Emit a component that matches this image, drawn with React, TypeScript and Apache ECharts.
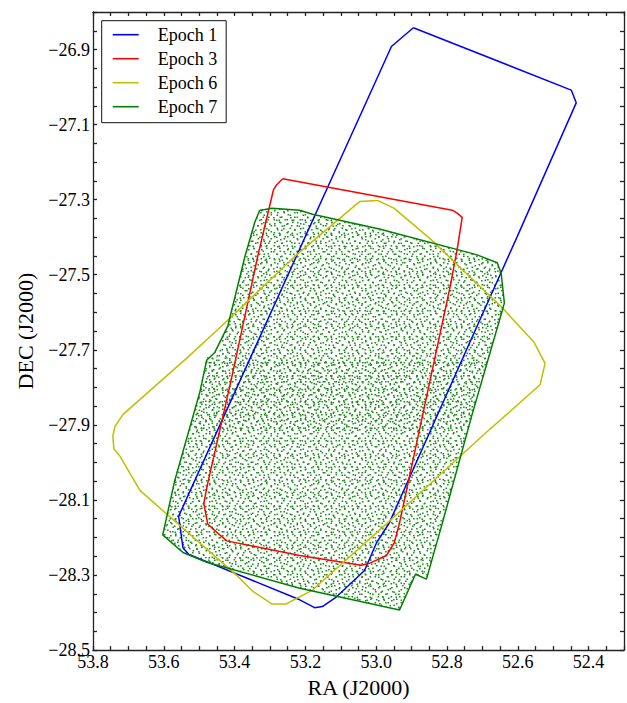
import React, { useEffect, useRef } from 'react';
import * as echarts from 'echarts';

// Footprint outlines (RA, DEC in degrees, J2000)
const epoch1RA = [52.895, 52.957, 53.558, 53.546, 53.529, 53.216, 53.174, 53.152, 53.112, 53.033, 52.999, 52.963, 52.737, 52.602, 52.435, 52.449, 52.895];
const epoch1DEC = [-26.842, -26.892, -28.143, -28.227, -28.245, -28.366, -28.387, -28.384, -28.358, -28.288, -28.214, -28.161, -27.683, -27.399, -27.042, -27.008, -26.842];

const epoch3RA = [53.264, 53.281, 53.290, 53.335, 53.411, 53.476, 53.487, 53.476, 53.442, 53.422, 53.216, 53.042, 53.019, 52.971, 52.949, 52.934, 52.791, 52.771, 52.757, 52.771, 52.785, 53.264];
const epoch3DEC = [-27.244, -27.260, -27.273, -27.452, -27.786, -28.056, -28.109, -28.164, -28.193, -28.209, -28.248, -28.274, -28.269, -28.248, -28.214, -28.161, -27.531, -27.431, -27.347, -27.336, -27.328, -27.244];

const epoch6RA = [53.047, 52.996, 52.949, 52.844, 52.737, 52.644, 52.554, 52.523, 52.537, 52.695, 52.968, 53.180, 53.245, 53.253, 53.295, 53.349, 53.394, 53.667, 53.724, 53.741, 53.744, 53.738, 53.715, 53.535, 53.436, 53.225, 53.047];
const epoch6DEC = [-27.305, -27.302, -27.323, -27.407, -27.504, -27.588, -27.680, -27.736, -27.793, -27.925, -28.161, -28.340, -28.372, -28.377, -28.377, -28.343, -28.301, -28.075, -27.983, -27.964, -27.930, -27.904, -27.872, -27.722, -27.636, -27.447, -27.305];

const epoch7RA = [53.329, 53.315, 53.295, 53.216, 53.180, 52.991, 52.746, 52.715, 52.658, 52.647, 52.638, 52.644, 52.729, 52.813, 52.858, 52.889, 52.934, 53.216, 53.479, 53.546, 53.603, 53.569, 53.498, 53.479, 53.456, 53.442, 53.419, 53.371, 53.343, 53.329];
const epoch7DEC = [-27.328, -27.326, -27.323, -27.328, -27.339, -27.378, -27.439, -27.447, -27.468, -27.496, -27.575, -27.596, -27.872, -28.161, -28.311, -28.298, -28.393, -28.335, -28.266, -28.240, -28.193, -28.048, -27.812, -27.728, -27.707, -27.680, -27.636, -27.452, -27.360, -27.328];

// denser strip of sources across the middle of the Epoch 7 field
const denseStripRA = [53.479, 53.498, 53.524, 52.740, 52.683, 53.479];
const denseStripDEC = [-27.720, -27.812, -27.912, -27.912, -27.720, -27.720];

const epochNames = ['Epoch 1', 'Epoch 3', 'Epoch 6', 'Epoch 7'];
const epochColors = ['#0000ff', '#ff0000', '#bfbf00', '#008000'];

const raMin = 52.3;
const raMax = 53.8;
const decMin = -28.5;
const decMax = -26.8;
const tickStep = 0.05;

const FONT = '"Liberation Serif", "Times New Roman", serif';

// texture tiles (different periods overlaid so the dots do not look like a grid)
const TILE_A = 13;
const DOTS_A = [[1, 2], [6, 0.5], [10.5, 4], [3.5, 6.5], [8, 8.5], [0.5, 11], [5.5, 11.5]];
const TILE_B = 17;
const DOTS_B = [[2, 4], [8, 1], [14, 2.5], [5, 8], [11, 7], [15.5, 10], [1, 13], [7.5, 12.5], [12.5, 15], [4, 15.5], [9.5, 4.5]];
const TILE_C = 19;
const DOTS_C = [[1, 1], [9.5, 3], [15, 1.5], [4, 8], [13, 9.5], [7, 14], [17, 15]];

function makeTileUrl(size: number, dots: number[][], color: string): string {
  const c = document.createElement('canvas');
  c.width = size;
  c.height = size;
  const ctx = c.getContext('2d');
  if (ctx) {
    ctx.fillStyle = color;
    for (const [x, y] of dots) ctx.fillRect(x, y, 1.6, 1.5);
  }
  return c.toDataURL();
}

const minus = (s: string) => s.replace('-', '\u2212');

function raLabel(v: number): string {
  const k = Math.round(v * 10);
  if (Math.abs(v * 10 - k) > 1e-6 || k % 2 !== 0) return '';
  return (k / 10).toFixed(1);
}
function decLabel(v: number): string {
  const k = Math.round(v * 10);
  if (Math.abs(v * 10 - k) > 1e-6 || Math.abs(k) % 2 !== 1) return '';
  return minus((k / 10).toFixed(1));
}

const toPairs = (ra: number[], dec: number[]) => ra.map((r, i) => [r, dec[i]]);

function fieldSeries(name: string, ra: number[], dec: number[], url: string, size: number, z: number) {
  return {
    type: 'custom',
    name,
    xAxisIndex: 0,
    yAxisIndex: 0,
    z,
    silent: true,
    data: [[ra[0], dec[0]]],
    renderItem: (_params: any, api: any) => {
      const pts = ra.map((r, i) => api.coord([r, dec[i]]));
      return {
        type: 'polygon',
        shape: { points: pts },
        style: {
          fill: { image: url, repeat: 'repeat', imageWidth: size, imageHeight: size },
          stroke: 'none',
        },
      };
    },
  };
}

export default function App() {
  const ref = useRef<HTMLDivElement>(null);
  useEffect(() => {
    if (!ref.current) return;
    const chart = echarts.init(ref.current, undefined, { renderer: 'svg' });
    const urlA = makeTileUrl(TILE_A, DOTS_A, '#1a8a1a');
    const urlB = makeTileUrl(TILE_B, DOTS_B, '#2a922a');
    const urlC = makeTileUrl(TILE_C, DOTS_C, '#1a8a1a');
    const axisLineStyle = { color: '#222', width: 1.3 };
    const baseX = {
      type: 'value' as const,
      min: raMin,
      max: raMax,
      interval: tickStep,
      inverse: true,
      splitLine: { show: false },
      axisLine: { show: true, onZero: false, lineStyle: axisLineStyle },
      axisTick: { show: true, inside: true, length: 4, lineStyle: axisLineStyle },
    };
    const baseY = {
      type: 'value' as const,
      min: decMin,
      max: decMax,
      interval: tickStep,
      splitLine: { show: false },
      axisLine: { show: true, onZero: false, lineStyle: axisLineStyle },
      axisTick: { show: true, inside: true, length: 4, lineStyle: axisLineStyle },
    };
    const outlines = [
      toPairs(epoch1RA, epoch1DEC),
      toPairs(epoch3RA, epoch3DEC),
      toPairs(epoch6RA, epoch6DEC),
      toPairs(epoch7RA, epoch7DEC),
    ];
    chart.setOption({
      animation: false,
      backgroundColor: '#fff',
      grid: { left: 93, top: 12, width: 532, height: 646.8, containLabel: false },
      xAxis: [
        {
          ...baseX,
          position: 'bottom',
          name: 'RA (J2000)',
          nameLocation: 'middle',
          nameGap: 12,
          nameTextStyle: { fontFamily: FONT, fontSize: 22, color: '#000' },
          axisLabel: { show: true, margin: 3, formatter: raLabel, fontFamily: FONT, fontSize: 18, color: '#000' },
        },
        { ...baseX, position: 'top', axisLabel: { show: false } },
      ],
      yAxis: [
        {
          ...baseY,
          position: 'left',
          name: 'DEC (J2000)',
          nameLocation: 'middle',
          nameGap: 57,
          nameTextStyle: { fontFamily: FONT, fontSize: 22, color: '#000' },
          axisLabel: { show: true, margin: 3, formatter: decLabel, fontFamily: FONT, fontSize: 18, color: '#000' },
        },
        { ...baseY, position: 'right', axisLabel: { show: false } },
      ],
      legend: {
        data: epochNames,
        icon: 'rect',
        orient: 'vertical',
        left: 101.7,
        top: 20.7,
        padding: [5, 9, 7, 11],
        itemWidth: 26,
        itemHeight: 1.6,
        itemGap: 6,
        backgroundColor: '#fff',
        borderColor: '#111',
        borderWidth: 1,
        borderRadius: 0,
        textStyle: { fontFamily: FONT, fontSize: 18, color: '#000', padding: [0, 0, 0, 14], lineHeight: 18 },
      },
      series: [
        fieldSeries('Epoch 7 field A', epoch7RA, epoch7DEC, urlA, TILE_A, 1),
        fieldSeries('Epoch 7 field B', epoch7RA, epoch7DEC, urlB, TILE_B, 1),
        fieldSeries('Epoch 7 dense strip', denseStripRA, denseStripDEC, urlC, TILE_C, 1),
        ...outlines.map((d, i) => ({
          type: 'line',
          name: epochNames[i],
          data: d,
          xAxisIndex: 0,
          yAxisIndex: 0,
          z: 3,
          symbol: 'none',
          showSymbol: false,
          color: epochColors[i],
          lineStyle: { color: epochColors[i], width: 1.5 },
        })),
      ],
    });
    return () => chart.dispose();
  }, []);
  return (
    <div
      ref={ref}
      style={{ position: 'fixed', left: 0, top: 0, width: 627, height: 703, background: '#fff' }}
    />
  );
}
